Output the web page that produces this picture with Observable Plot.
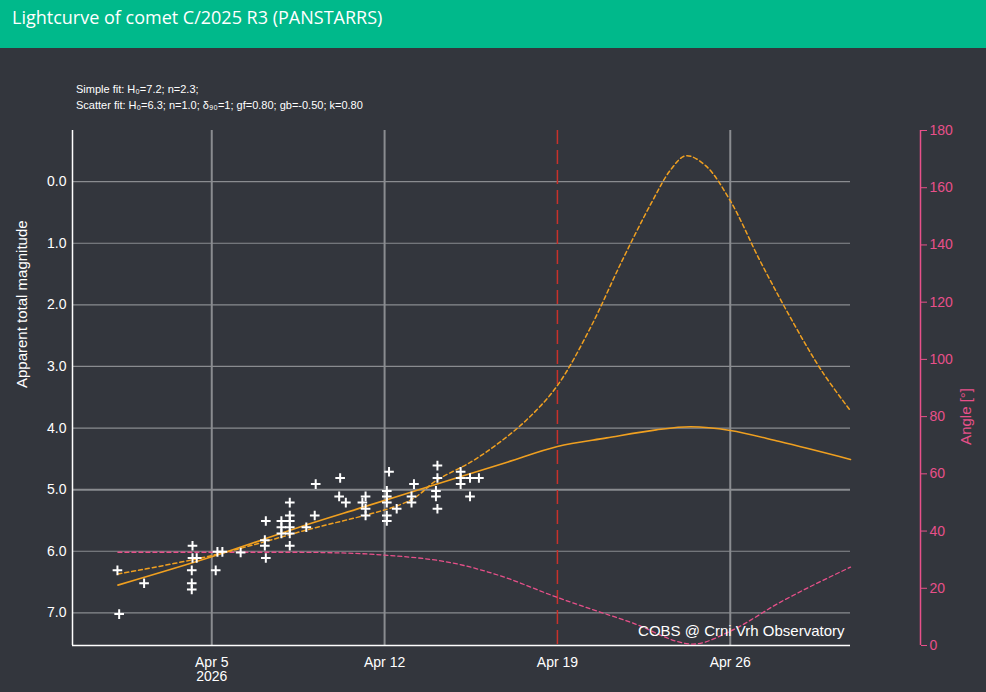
<!DOCTYPE html>
<html><head><meta charset="utf-8">
<script src="https://cdn.jsdelivr.net/npm/d3@7"></script>
<script src="https://cdn.jsdelivr.net/npm/@observablehq/plot@0.6"></script>
<style>
body{margin:0;background:#33363d;font-family:"Liberation Sans",Arial,sans-serif;}
#head{height:48px;background:#00b98b;color:#fff;font:18px "Open Sans",sans-serif;line-height:34px;padding-left:12px;box-sizing:border-box;}
#wrap{position:relative;}
#fit{position:absolute;left:76px;top:33px;color:#fff;font-size:11px;line-height:16px;}
</style></head><body>
<div id="head">Lightcurve of comet C/2025 R3 (PANSTARRS)</div>
<div id="wrap"><div id="fit">Simple fit: H₀=7.2; n=2.3;<br>Scatter fit: H₀=6.3; n=1.0; δ₉₀=1; gf=0.80; gb=-0.50; k=0.80</div><div id="chart"></div></div>
<script>
// observations: days after Apr 5 2026, magnitude
const obsDay = [-3.82,-3.75,-2.74,-0.78,-0.78,-0.61,-0.81,-0.81,-0.81,0.16,0.23,0.43,1.17,2.19,2.15,2.15,2.19,2.82,2.82,2.82,3.16,3.16,3.16,3.16,3.16,3.16,3.83,4.17,4.21,5.2,5.16,5.43,6.1,6.23,6.23,6.23,7.18,7.09,7.09,7.09,7.09,7.09,7.49,8.19,8.09,8.09,9.14,9.14,9.08,9.08,9.14,10.08,10.08,10.08,10.46,10.82,10.46];
const obsMag = [6.31,7.02,6.52,5.91,6.11,6.11,6.31,6.52,6.62,6.31,6.01,6.01,6.02,5.51,5.82,5.91,6.11,5.51,5.61,5.71,5.21,5.42,5.51,5.61,5.71,5.91,5.61,5.42,4.91,4.81,5.11,5.21,5.21,5.11,5.31,5.42,4.71,5.02,5.11,5.21,5.42,5.51,5.31,4.91,5.11,5.21,4.61,4.81,5.02,5.11,5.31,4.71,4.81,4.91,4.81,4.81,5.11];
const simpleDay = [-3.8,0,2,4,6,8,10,12,14,16,18,19.4,21,23,25.87];
const simpleMag = [6.55,6.09,5.82,5.55,5.3,5.05,4.8,4.55,4.3,4.16,4.03,3.98,4.04,4.22,4.51];
const scatDay = [-3.8,0,3.7,8,9.1,10.5,11.6,12.8,14,15.3,16.6,17.8,18.6,19.2,20,21,22.2,23.4,24.7,25.87];
const scatMag = [6.37,6.07,5.67,5.18,4.85,4.55,4.25,3.85,3.31,2.4,1.3,0.35,-0.2,-0.42,-0.26,0.31,1.28,2.18,3.07,3.72];
const angDay = [-3.8,0,3,5,7,10,11.6,14,17,19.5,21,23,25.87];
const angVal = [32.6,32.6,32.6,32.4,31.6,28.4,24.6,16.8,8,0.5,5,15,27.4];
const perihelion = 14; // Apr 19
const magTicks = [0,1,2,3,4,5,6,7];
const angTicks = [0,20,40,60,80,100,120,140,160,180];
const dateTicks = [0,7,14,21];

const t0 = new Date(2026,3,5);
const D = d => new Date(t0.getTime() + d*864e5);
const yMin = -0.83, yMax = 7.53;
const a2m = a => yMin + (180 - a)/180*(yMax - yMin);
const pts = (ds, vs, f = v => v) => ds.map((d,i) => ({x: D(d), y: f(vs[i])}));

const pink = "#e8508a", orange = "#f0a020", grid = "#8a8c90";
const chart = Plot.plot({
  width: 986, height: 644,
  marginLeft: 72, marginRight: 136, marginTop: 82, marginBottom: 47,
  style: {background: "#33363d", color: "#fff", fontSize: "14px", fontFamily: "Liberation Sans, Arial, sans-serif"},
  x: {type: "time", domain: [D(-5.64), D(25.87)]},
  y: {domain: [yMin, yMax], reverse: true},
  marks: [
    Plot.ruleY(magTicks, {stroke: grid, strokeWidth: d => d === 5 ? 2 : 1.2}),
    Plot.ruleX(dateTicks.filter(d => d !== perihelion).map(D), {stroke: grid, strokeWidth: 2}),
    Plot.ruleX([D(perihelion)], {stroke: "#c8312b", strokeWidth: 1.5, strokeDasharray: "14,6"}),
    Plot.axisY(magTicks, {anchor: "left", tickFormat: d => d.toFixed(1), tickSize: 0, tickPadding: 6, fill: "#fff", fontSize: 14, label: null}),
    Plot.axisX(dateTicks.map(D), {tickFormat: d => "Apr " + d.getDate() + (d.getDate() === 5 ? "\n2026" : ""), tickSize: 0, tickPadding: 12, fontSize: 14, label: null}),
    Plot.axisY(angTicks.map(a2m), {anchor: "right", dx: 70, tickFormat: m => Math.round(180 - (m - yMin)/(yMax - yMin)*180), stroke: pink, fill: pink, tickSize: 6, fontSize: 14, label: null}),
    Plot.ruleX([D(25.87)], {dx: 70, y1: yMin, y2: yMax, stroke: pink, strokeWidth: 1.5}),
    Plot.ruleX([D(-5.64)], {stroke: "#fff", strokeWidth: 1.5}),
    Plot.ruleY([yMax], {stroke: "#fff", strokeWidth: 1.5}),
    Plot.line(pts(angDay, angVal, a2m), {x: "x", y: "y", stroke: pink, strokeWidth: 1.3, strokeDasharray: "4,3", curve: "monotone-x"}),
    Plot.line(pts(scatDay, scatMag), {x: "x", y: "y", stroke: orange, strokeWidth: 1.5, strokeDasharray: "4,3", curve: "catmull-rom"}),
    Plot.line(pts(simpleDay, simpleMag), {x: "x", y: "y", stroke: orange, strokeWidth: 1.6, curve: "catmull-rom"}),
    Plot.dot(pts(obsDay, obsMag), {x: "x", y: "y", symbol: "plus", r: 3.2, stroke: "#fff", strokeWidth: 2}),
    Plot.text(["COBS @ Crni Vrh Observatory"], {frameAnchor: "bottom-right", dx: -6, dy: -10, fill: "#fff", fontSize: 15}),
    Plot.text(["Apparent total magnitude"], {frameAnchor: "left", dx: -50, rotate: -90, fill: "#fff", fontSize: 15}),
    Plot.text(["Angle [°]"], {frameAnchor: "right", dx: 116, rotate: -90, fill: pink, fontSize: 15})
  ]
});
document.getElementById("chart").append(chart);
</script></body></html>
